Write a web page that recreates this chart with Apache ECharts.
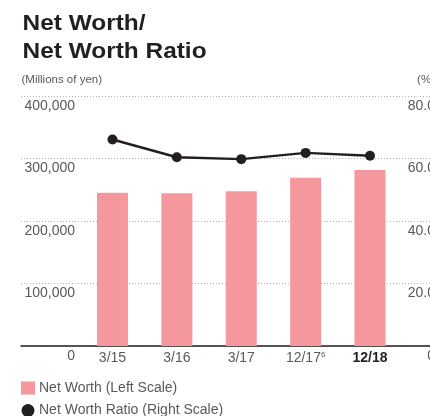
<!DOCTYPE html>
<html>
<head>
<meta charset="utf-8">
<script src="https://cdn.jsdelivr.net/npm/echarts@6/dist/echarts.min.js"></script>
<style>
  html, body { margin: 0; padding: 0; background: #ffffff; }
  #chart { width: 430px; height: 416px; }
</style>
</head>
<body>
<div id="chart"></div>
<script>
// Fiscal periods shown on the category axis
const categories = ['3/15', '3/16', '3/17', '12/17', '12/18'];
// Footnote marks attached to category labels
const footnotes = ['', '', '', '6', ''];
// Net worth, millions of yen (left scale)
const netWorth = [245300, 244300, 247500, 269300, 281600];
// Net worth ratio, % (right scale)
const netWorthRatio = [66.1, 60.4, 59.8, 61.8, 60.9];
// Axis ranges
const leftScale = [0, 400000, 100000];
const rightScale = [0, 80, 20];

const TEXT = '#231f20';
const GRAY = '#58595b';
const FONT = '"Liberation Sans", Arial, Helvetica, sans-serif';

const chart = echarts.init(document.getElementById('chart'), null, { renderer: 'canvas' });

const gridTop = 96, gridHeight = 250;

const option = {
  backgroundColor: '#ffffff',
  animation: false,
  textStyle: { fontFamily: FONT },
  graphic: [
    { type: 'text', x: 22.5, y: 24, scaleX: 1.11,
      style: { text: 'Net Worth/', font: 'bold 22px ' + FONT, fill: TEXT, align: 'left', verticalAlign: 'middle' } },
    { type: 'text', x: 22.5, y: 52.3, scaleX: 1.11,
      style: { text: 'Net Worth Ratio', font: 'bold 22px ' + FONT, fill: TEXT, align: 'left', verticalAlign: 'middle' } },
    { type: 'text', x: 21.5, y: 79.7,
      style: { text: '(Millions of yen)', font: '11.5px ' + FONT, fill: GRAY, align: 'left', verticalAlign: 'middle' } },
    { type: 'text', x: 435, y: 79.7,
      style: { text: '(%)', font: '11.5px ' + FONT, fill: GRAY, align: 'right', verticalAlign: 'middle' } }
  ],
  grid: [
    { left: 21, right: 0, top: gridTop, height: gridHeight, containLabel: false, outerBoundsMode: 'none' },
    { left: 80.3, width: 321.9, top: gridTop, height: gridHeight, containLabel: false, outerBoundsMode: 'none' }
  ],
  xAxis: [
    {
      gridIndex: 0, type: 'value', min: 0, max: 1,
      axisLine: { show: true, onZero: false, lineStyle: { color: TEXT, width: 1.5 } },
      axisTick: { show: false }, axisLabel: { show: false }, splitLine: { show: false }
    },
    {
      gridIndex: 1, type: 'category', data: categories,
      axisLine: { show: false }, axisTick: { show: false },
      axisLabel: {
        interval: 0, hideOverlap: false,
        margin: 4, fontSize: 14, color: GRAY, fontFamily: FONT,
        formatter: function (v, i) {
          if (i === categories.length - 1) return '{b|' + v + '}';
          return footnotes[i] ? '{a|' + v + '}{s|' + footnotes[i] + '}' : '{a|' + v + '}';
        },
        rich: {
          a: { fontSize: 14, color: GRAY, fontFamily: FONT, lineHeight: 16 },
          b: { fontSize: 14, color: TEXT, fontWeight: 'bold', fontFamily: FONT, lineHeight: 16 },
          s: { fontSize: 8, color: GRAY, fontFamily: FONT, lineHeight: 8, verticalAlign: 'top', padding: [1, 0, 0, 0] }
        }
      }
    }
  ],
  yAxis: [
    {
      gridIndex: 0, type: 'value', position: 'left',
      min: leftScale[0], max: leftScale[1], interval: leftScale[2],
      axisLine: { show: false }, axisTick: { show: false },
      splitLine: { show: true, lineStyle: { color: '#b4b4b4', width: 1, type: [1, 2] } },
      axisLabel: {
        inside: true, margin: 54, align: 'right', verticalAlign: 'top',
        padding: [3, 0, 0, 0], fontSize: 14, color: GRAY, fontFamily: FONT,
        formatter: function (v) { return v.toLocaleString('en-US'); }
      }
    },
    {
      gridIndex: 0, type: 'value', position: 'right',
      min: rightScale[0], max: rightScale[1], interval: rightScale[2],
      axisLine: { show: false }, axisTick: { show: false }, splitLine: { show: false },
      axisLabel: {
        margin: 5, align: 'right', verticalAlign: 'top',
        padding: [3, 0, 0, 0], fontSize: 14, color: GRAY, fontFamily: FONT,
        formatter: function (v) { return v === 0 ? '0' : v.toFixed(1); }
      }
    },
    { gridIndex: 1, type: 'value', min: leftScale[0], max: leftScale[1], show: false },
    { gridIndex: 1, type: 'value', min: rightScale[0], max: rightScale[1], show: false }
  ],
  legend: {
    orient: 'vertical', left: 21, top: 381, height: 60, padding: 0, itemGap: 8.5,
    itemWidth: 14, itemHeight: 13,
    textStyle: { fontSize: 14, color: GRAY, fontFamily: FONT, padding: [0, 0, 0, -1] },
    data: [
      { name: 'Net Worth (Left Scale)', icon: 'rect' },
      { name: 'Net Worth Ratio (Right Scale)', icon: 'circle' }
    ]
  },
  series: [
    {
      name: 'Net Worth (Left Scale)', type: 'bar',
      xAxisIndex: 1, yAxisIndex: 2, data: netWorth,
      barWidth: 31, itemStyle: { color: '#f5989d' }
    },
    {
      name: 'Net Worth Ratio (Right Scale)', type: 'line',
      xAxisIndex: 1, yAxisIndex: 3, data: netWorthRatio,
      symbol: 'circle', symbolSize: 10, z: 5,
      lineStyle: { color: TEXT, width: 2.5 },
      itemStyle: { color: TEXT }
    }
  ]
};

chart.setOption(option);
</script>
</body>
</html>
